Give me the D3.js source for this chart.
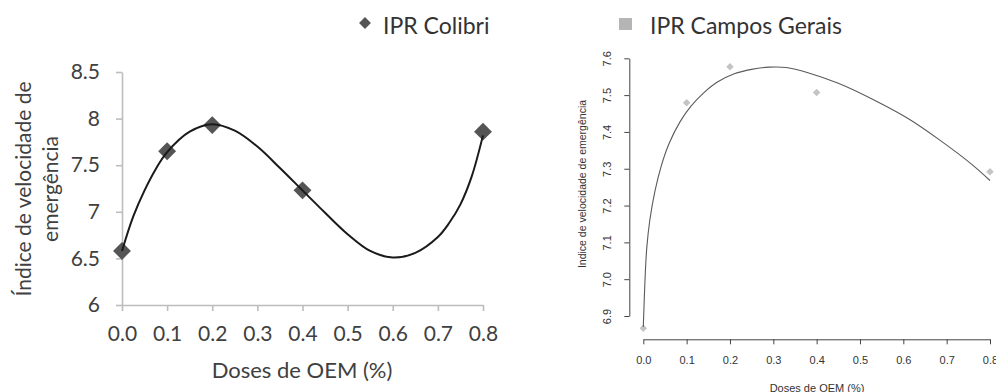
<!DOCTYPE html>
<html>
<head>
<meta charset="utf-8">
<script src="https://cdnjs.cloudflare.com/ajax/libs/d3/7.8.5/d3.min.js"></script>
<style>
  body { margin: 0; background: #fff; }
  #chart { width: 996px; height: 392px; }
</style>
</head>
<body>
<div id="chart"></div>
<script>
/* IPR Colibri (left panel) */
const colibriDoses = [0, 0.1, 0.2, 0.4, 0.8];
const colibriIndex = [6.58, 7.65, 7.93, 7.23, 7.86];
// trendline
const colibriTrendDoses = [0, 0.025, 0.05, 0.075, 0.1, 0.15, 0.2, 0.25, 0.3, 0.35, 0.4, 0.45, 0.5, 0.55, 0.6, 0.65, 0.7, 0.725, 0.75, 0.775, 0.8];
const colibriTrendIndex = [6.58, 6.95, 7.23, 7.46, 7.64, 7.86, 7.94, 7.87, 7.70, 7.47, 7.23, 6.99, 6.76, 6.58, 6.51, 6.56, 6.73, 6.88, 7.08, 7.38, 7.82];
const colibriXTicks = [0, 0.1, 0.2, 0.3, 0.4, 0.5, 0.6, 0.7, 0.8];
const colibriYTicks = [6, 6.5, 7, 7.5, 8, 8.5];

/* IPR Campos Gerais (right panel) */
const camposDoses = [0, 0.1, 0.2, 0.4, 0.8];
const camposIndex = [6.867, 7.479, 7.577, 7.507, 7.292];
// fitted curve
const camposFitDoses = [0, 0.004, 0.008, 0.015, 0.027, 0.042, 0.06, 0.085, 0.11, 0.14, 0.17, 0.21, 0.25, 0.29, 0.33, 0.38, 0.45, 0.53, 0.61, 0.685, 0.76, 0.8];
const camposFitIndex = [6.87, 7.00, 7.085, 7.16, 7.24, 7.31, 7.37, 7.428, 7.47, 7.507, 7.535, 7.558, 7.57, 7.576, 7.575, 7.561, 7.532, 7.488, 7.437, 7.377, 7.31, 7.268];
const camposXTicks = [0, 0.1, 0.2, 0.3, 0.4, 0.5, 0.6, 0.7, 0.8];
const camposYTicks = [6.9, 7.0, 7.1, 7.2, 7.3, 7.4, 7.5, 7.6];

const legendNames = ["IPR Colibri", "IPR Campos Gerais"];
const xTitle = "Doses de OEM (%)";

const width = 996, height = 392;
const svg = d3.select("#chart").append("svg")
  .attr("width", width)
  .attr("height", height);

/* ---------- left panel ---------- */
const fontL = "Lato, 'Open Sans', sans-serif";
const textL = "#404040";
const xL = d3.scaleLinear().domain([0, 0.8]).range([122, 483]);
const yL = d3.scaleLinear().domain([6, 8.5]).range([305, 72]);

const left = svg.append("g");

const yAxisL = left.append("g")
  .attr("transform", `translate(${xL(0)},0)`)
  .call(d3.axisLeft(yL).tickValues(colibriYTicks).tickSize(6).tickSizeOuter(0).tickPadding(16).tickFormat(d => String(d)));
const xAxisL = left.append("g")
  .attr("transform", `translate(0,${yL(6)})`)
  .call(d3.axisBottom(xL).tickValues(colibriXTicks).tickSize(6).tickSizeOuter(0).tickPadding(15).tickFormat(d3.format(".1f")));

[yAxisL, xAxisL].forEach(a => {
  a.selectAll("path, line").attr("stroke", "#bdbdbd").attr("stroke-width", 1.6);
  a.selectAll("text").attr("fill", textL).style("font-family", fontL).style("font-size", "21px");
});

left.append("text")
  .attr("x", 302).attr("y", 378)
  .attr("text-anchor", "middle")
  .attr("fill", textL)
  .style("font-family", fontL).style("font-size", "22px")
  .text(xTitle);

left.append("text")
  .attr("transform", "rotate(-90)")
  .attr("text-anchor", "middle")
  .attr("fill", textL)
  .style("font-family", fontL).style("font-size", "21px")
  .selectAll("tspan")
  .data(["Índice de velocidade de", "emergência"])
  .enter().append("tspan")
  .attr("x", -189)
  .attr("y", (d, i) => 31 + i * 27)
  .text(d => d);

const diamond = d3.symbol().type(d3.symbolSquare);

left.append("g").selectAll("path")
  .data(colibriDoses).enter()
  .append("path")
  .attr("d", diamond.size(160)())
  .attr("transform", (d, i) => `translate(${xL(d)},${yL(colibriIndex[i])}) rotate(45)`)
  .attr("fill", "#555");

const lineL = d3.line()
  .x((d, i) => xL(d))
  .y((d, i) => yL(colibriTrendIndex[i]))
  .curve(d3.curveCatmullRom.alpha(0.5));

left.append("path")
  .attr("d", lineL(colibriTrendDoses))
  .attr("fill", "none")
  .attr("stroke", "#1a1a1a")
  .attr("stroke-width", 2);

/* ---------- legend ---------- */
const legend = svg.append("g");
legend.append("path")
  .attr("d", d3.symbol().type(d3.symbolSquare).size(70)())
  .attr("transform", "translate(365,23) rotate(45)")
  .attr("fill", "#555");
legend.append("rect")
  .attr("x", 619).attr("y", 18).attr("width", 13).attr("height", 12)
  .attr("fill", "#b5b5b5");
legend.selectAll("text")
  .data(legendNames).enter()
  .append("text")
  .attr("x", (d, i) => i === 0 ? 383 : 650)
  .attr("y", 34)
  .attr("fill", "#333")
  .style("font-family", fontL).style("font-size", "23px")
  .text(d => d);

/* ---------- right panel (R style) ---------- */
const fontR = "'Liberation Sans', Arial, sans-serif";
const textR = "#333";
const xR = d3.scaleLinear().domain([0, 0.8]).range([643.3, 990]);
const yR = d3.scaleLinear().domain([6.9, 7.6]).range([316, 58.3]);

const right = svg.append("g");

const yAxisR = right.append("g")
  .attr("transform", "translate(629.3,0)")
  .call(d3.axisLeft(yR).tickValues(camposYTicks).tickSize(5).tickSizeOuter(0).tickFormat(d3.format(".1f")));
yAxisR.selectAll("text")
  .attr("x", null).attr("dy", null)
  .attr("text-anchor", "middle")
  .attr("transform", "translate(-18,0) rotate(-90)");

const xAxisR = right.append("g")
  .attr("transform", "translate(0,339.3)")
  .call(d3.axisBottom(xR).tickValues(camposXTicks).tickSize(5).tickSizeOuter(0).tickPadding(12).tickFormat(d3.format(".1f")));

[yAxisR, xAxisR].forEach(a => {
  a.selectAll("path, line").attr("stroke", "#444").attr("stroke-width", 1);
  a.selectAll("text").attr("fill", textR).style("font-family", fontR).style("font-size", "11px");
});

right.append("text")
  .attr("transform", "translate(586,184) rotate(-90)")
  .attr("text-anchor", "middle")
  .attr("fill", textR)
  .style("font-family", fontR).style("font-size", "10.5px")
  .text("Indice de velocidade de emergência");

right.append("text")
  .attr("x", 817).attr("y", 391.5)
  .attr("text-anchor", "middle")
  .attr("fill", textR)
  .style("font-family", fontR).style("font-size", "11px")
  .text(xTitle);

right.append("g").selectAll("path")
  .data(camposDoses).enter()
  .append("path")
  .attr("d", d3.symbol().type(d3.symbolSquare).size(28)())
  .attr("transform", (d, i) => `translate(${xR(d)},${yR(camposIndex[i])}) rotate(45)`)
  .attr("fill", "#c4c4c4");

const lineR = d3.line()
  .x(d => xR(d))
  .y((d, i) => yR(camposFitIndex[i]))
  .curve(d3.curveCatmullRom.alpha(0.5));

right.append("path")
  .attr("d", lineR(camposFitDoses))
  .attr("fill", "none")
  .attr("stroke", "#5a5a5a")
  .attr("stroke-width", 1.1);
</script>
</body>
</html>
